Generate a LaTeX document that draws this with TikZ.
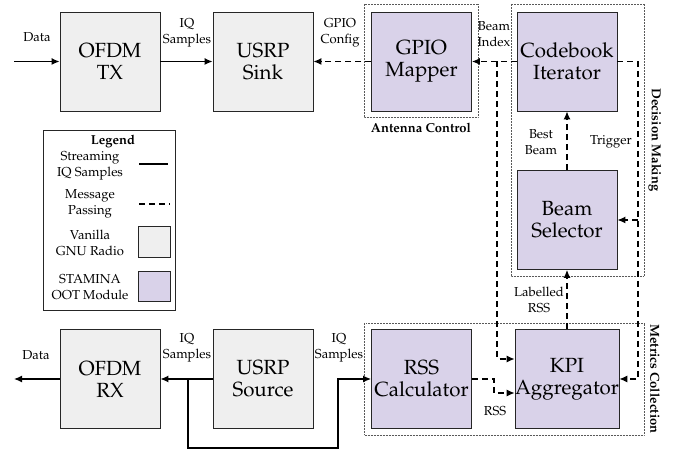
\documentclass[tikz,border=0pt]{standalone}
\usepackage[T1]{fontenc}
\usepackage{mathpazo}
\usetikzlibrary{arrows.meta,positioning,calc}

\definecolor{vanilla}{HTML}{EFEFEF}
\definecolor{stamina}{HTML}{D9D2E9}

\begin{document}
\begin{tikzpicture}[x=1pt,y=-1pt,
	block/.style={draw=black!85,line width=0.8pt,minimum width=100pt,minimum height=99pt,inner sep=0pt,align=center,font=\fontsize{20.5}{22}\selectfont},
	vblock/.style={block,fill=vanilla},
	sblock/.style={block,fill=stamina},
	lbl/.style={align=center,inner sep=0pt,font=\fontsize{13}{16}\selectfont},
	grp/.style={draw=black!65,densely dotted,line width=0.5pt},
	grplbl/.style={inner sep=0pt,font=\bfseries\fontsize{13}{15}\selectfont},
	stream/.style={line width=1.3pt,-{Latex[length=8pt,width=7pt]}},
	msg/.style={stream,dash pattern=on 6pt off 4pt}]
				\useasboundingbox (0,0) rectangle (681,454);

				\foreach \x/\y/\name/\txt in {110/61.5/tx/{OFDM\\TX},263/61.5/sink/{USRP\\Sink},110/379/rx/{OFDM\\RX},263/379/src/{USRP\\Source}}
				{
					\node[vblock] (\name) at (\x,\y) {\txt};
				}

				\foreach \x/\y/\name/\txt in {421.5/61.5/gpio/{GPIO\\Mapper},567/61.5/codebook/{Codebook\\Iterator},567/220/selector/{Beam\\Selector},421.5/379/rss/{RSS\\Calculator},567/379/kpi/{KPI\\Aggregator}}
				{
					\node[sblock] (\name) at (\x,\y) {\txt};
				}

				\draw[grp] (364,4) rectangle (478,117);
				\node[grplbl] (antlbl) at (421,128) {Antenna Control};
				\draw[grp] (511,4) rectangle (644,276);
				\node[grplbl,rotate=-90] (declbl) at (655,140) {Decision Making};
				\draw[grp] (364,323) rectangle (644,435);
				\node[grplbl,rotate=-90] (metlbl) at (655,379) {Metrics Collection};

				\coordinate (datain) at (14,61.5);
				\coordinate (dataout) at (14,379);
				\coordinate (bidx) at (497,61.5);
				\coordinate (trg) at (638,61.5);
				\coordinate (split) at (188,379);
				\coordinate (loop) at (338,448);
				\coordinate (kpiin) at ($(kpi.west)+(0,-20)$);
				\coordinate (kpirss) at ($(kpi.west)+(0,14)$);

				\draw[stream] (datain) -- (tx.west);
				\draw[stream] (tx) -- (sink);
				\draw[msg] (gpio) -- (sink);
				\draw[msg] (codebook) -- (gpio);
				\draw[msg] (bidx) -- (bidx |- kpiin) -- (kpiin);
				\draw[msg] (codebook.east) -- (trg) -- (trg |- kpi.east) -- (kpi.east);
				\draw[msg] (trg |- selector.east) -- (selector.east);
				\draw[msg] (selector) -- (codebook);
				\draw[msg] (kpi) -- (selector);
				\draw[msg] (rss.east) -- ++(22,0) |- (kpirss);
				\draw[stream] (src) -- (rx);
				\draw[stream] (rx.west) -- (dataout);
				\draw[stream] (split) |- (loop) |- (rss.west);

				\node[lbl] (l1) at (37,37) {Data};
				\node[lbl] (l2) at (187,33) {IQ\\Samples};
				\node[lbl] (l3) at (340,33) {GPIO\\Config};
				\node[lbl] (l4) at (494,34) {Beam\\Index};
				\node[lbl] (l5) at (541,142) {Best\\Beam};
				\node[lbl] (l6) at (611,142) {Trigger};
				\node[lbl] (l7) at (539,300) {Labelled\\RSS};
				\node[lbl] (l8) at (495,411) {RSS};
				\node[lbl] (l9) at (36,355) {Data};
				\node[lbl] (l10) at (187,348) {IQ\\Samples};
				\node[lbl] (l11) at (339,348) {IQ\\Samples};

				\draw[draw=black!85,line width=0.8pt] (43,130) rectangle (175,310);
				\node[grplbl] (leg) at (113,141) {Legend};
				\foreach \y/\txt in {165.5/{Streaming\\IQ Samples},203.5/{Message\\Passing},243/{Vanilla\\GNU Radio},287/{STAMINA\\OOT Module}}
				{
					\node[lbl] at (90,\y) {\txt};
				}
				\draw[line width=1.3pt] (139,164) -- (168,164);
				\draw[line width=1.3pt,dash pattern=on 6pt off 4pt] (139,204) -- (170,204);
				\draw[draw=black!85,line width=0.8pt,fill=vanilla] (138,226) rectangle (170,257);
				\draw[draw=black!85,line width=0.8pt,fill=stamina] (138,271) rectangle (170,301);
			\end{tikzpicture}
\end{document}
